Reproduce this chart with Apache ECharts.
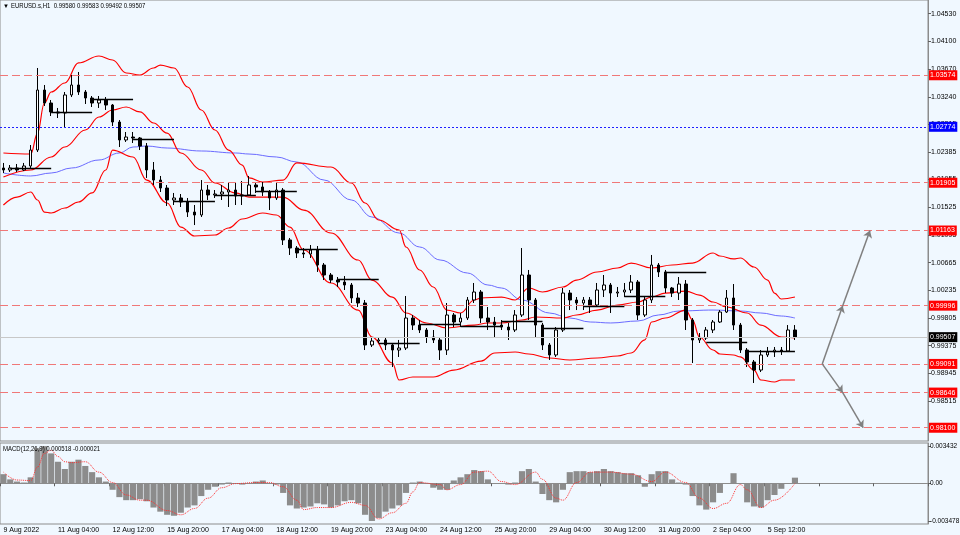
<!DOCTYPE html>
<html><head><meta charset="utf-8">
<script src="https://cdn.jsdelivr.net/npm/echarts@6/dist/echarts.min.js"></script>
<style>html,body{margin:0;padding:0;background:#f0f8ff;}#c{width:960px;height:535px;}</style>
</head><body><div id="c"></div>
<script>
const FF = '"Liberation Sans Narrow","Liberation Sans",Arial,sans-serif';
const headerText = 'EURUSD.s,H1  0.99580 0.99583 0.99492 0.99507';
const macdText = 'MACD(12,26,9) 0.000518 -0.000021';
const timeLabels = ['9 Aug 2022','11 Aug 04:00','12 Aug 12:00','15 Aug 20:00','17 Aug 04:00','18 Aug 12:00','19 Aug 20:00','23 Aug 04:00','24 Aug 12:00','25 Aug 20:00','29 Aug 04:00','30 Aug 12:00','31 Aug 20:00','2 Sep 04:00','5 Sep 12:00'];
const SLOTS = 136;
const priceTicks = [1.04530,1.04100,1.03670,1.03240,1.02815,1.02385,1.01955,1.01525,1.01095,1.00665,1.00235,0.99805,0.99375,0.98945,0.98515];
const macdTicks = [0.003432,0,-0.003478];

const openP = [1.02134,1.02103,1.02134,1.02103,1.02165,1.02413,1.03345,1.03143,1.03004,1.02988,
1.03268,1.03423,1.03314,1.03221,1.03143,1.03190,1.03112,1.02848,1.02569,1.02615,
1.02600,1.02475,1.02103,1.01947,1.01823,1.01637,1.01668,1.01606,1.01450,1.01404,
1.01792,1.01715,1.01730,1.01761,1.01792,1.01699,1.01715,1.01870,1.01839,1.01761,
1.01668,1.01792,1.01016,1.00891,1.00814,1.00798,1.00860,1.00627,1.00472,1.00394,
1.00363,1.00317,1.00115,1.00037,0.99385,0.99447,0.99463,0.99385,0.99307,0.99338,
0.99804,0.99695,0.99618,0.99509,0.99463,0.99307,0.99851,0.99742,0.99804,1.00084,
1.00208,0.99804,0.99742,0.99695,0.99664,0.99618,0.99851,1.00472,1.00084,0.99695,
0.99385,0.99230,0.99618,1.00192,1.00084,1.00037,1.00084,1.00006,1.00239,1.00317,
1.00192,1.00208,1.00239,1.00363,0.99851,1.00084,1.00627,1.00519,1.00270,1.00192,
1.00332,0.99773,0.99463,0.99494,0.99618,0.99742,0.99897,1.00115,0.99695,0.99307,
0.99121,0.98996,0.99230,0.99276,0.99307,0.99292,0.99618];
const highP = [1.02212,1.02180,1.02196,1.02212,1.02491,1.03687,1.03423,1.03190,1.03066,1.03314,
1.03578,1.03625,1.03345,1.03252,1.03252,1.03236,1.03128,1.02879,1.02693,1.02693,
1.02615,1.02522,1.02227,1.02010,1.01870,1.01746,1.01730,1.01668,1.01559,1.01947,
1.01870,1.01792,1.01870,1.01901,1.01901,1.01932,1.02010,1.01901,1.01916,1.01792,
1.01901,1.01823,1.01047,1.00922,1.00891,1.00938,1.00922,1.00658,1.00503,1.00441,
1.00456,1.00348,1.00192,1.00084,0.99509,0.99509,0.99509,0.99416,0.99463,1.00146,
0.99851,0.99773,0.99649,0.99618,0.99509,1.00037,0.99882,0.99882,1.00130,1.00348,
1.00239,0.99975,0.99820,0.99773,0.99727,0.99928,1.00891,1.00550,1.00115,0.99727,
0.99416,0.99664,1.00270,1.00239,1.00130,1.00130,1.00130,1.00348,1.00472,1.00348,
1.00286,1.00348,1.00472,1.00394,1.00130,1.00783,1.00658,1.00550,1.00286,1.00441,
1.00394,0.99804,0.99571,0.99664,0.99773,0.99928,1.00239,1.00332,0.99727,0.99338,
0.99152,0.99307,0.99354,0.99354,0.99354,0.99695,0.99695];
const lowP = [1.02056,1.02072,1.02072,1.02087,1.02134,1.02382,1.03097,1.02941,1.02910,1.02771,
1.03236,1.03268,1.03128,1.03081,1.03066,1.03035,1.02786,1.02460,1.02538,1.02522,
1.02413,1.01979,1.01870,1.01761,1.01544,1.01559,1.01528,1.01373,1.01248,1.01373,
1.01637,1.01668,1.01637,1.01528,1.01559,1.01559,1.01699,1.01746,1.01699,1.01481,
1.01637,1.00938,1.00783,1.00736,1.00736,1.00736,1.00519,1.00394,1.00348,1.00286,
1.00239,1.00037,0.99975,0.99307,0.99354,0.99416,0.99307,0.99043,0.99199,0.99307,
0.99618,0.99571,0.99416,0.99416,0.99152,0.99230,0.99664,0.99664,0.99773,1.00037,
0.99727,0.99618,0.99509,0.99618,0.99463,0.99587,0.99820,0.99773,0.99509,0.99307,
0.99152,0.99199,0.99587,0.99928,0.99928,0.99928,0.99882,0.99975,1.00130,0.99882,
1.00130,1.00130,1.00192,0.99773,0.99820,1.00037,1.00441,1.00192,1.00130,1.00084,
0.99618,0.99105,0.99416,0.99463,0.99571,0.99727,0.99882,0.99618,0.99261,0.99043,
0.98795,0.98965,0.99199,0.99199,0.99230,0.99276,0.99463];
const closeP = [1.02103,1.02134,1.02103,1.02165,1.02413,1.03345,1.03143,1.03004,1.02988,1.03268,
1.03423,1.03314,1.03221,1.03143,1.03190,1.03112,1.02848,1.02569,1.02615,1.02600,
1.02475,1.02103,1.01947,1.01823,1.01637,1.01668,1.01606,1.01450,1.01404,1.01792,
1.01715,1.01730,1.01761,1.01792,1.01699,1.01715,1.01870,1.01839,1.01761,1.01668,
1.01792,1.01016,1.00891,1.00814,1.00798,1.00860,1.00627,1.00472,1.00394,1.00363,
1.00317,1.00115,1.00037,0.99385,0.99447,0.99463,0.99385,0.99307,0.99338,0.99804,
0.99695,0.99618,0.99509,0.99463,0.99307,0.99851,0.99742,0.99804,1.00084,1.00208,
0.99804,0.99742,0.99695,0.99664,0.99618,0.99851,1.00472,1.00084,0.99695,0.99385,
0.99230,0.99618,1.00192,1.00084,1.00037,1.00084,1.00006,1.00239,1.00317,1.00192,
1.00208,1.00239,1.00363,0.99851,1.00084,1.00627,1.00519,1.00270,1.00192,1.00332,
0.99773,0.99463,0.99494,0.99618,0.99742,0.99897,1.00115,0.99695,0.99307,0.99121,
0.98996,0.99230,0.99276,0.99307,0.99292,0.99618,0.99507];

const upperBand = [[0,1.02367],[4,1.02351],[5,1.02677],[6,1.03143],[7,1.03314],[9,1.03454],[11,1.03765],[14,1.03873],[16,1.03811],[18,1.03609],[20,1.03578],[22,1.03687],[23,1.03733],[25,1.03687],[27,1.03392],[29,1.03035],[31,1.02724],[33,1.02413],[35,1.02180],[36,1.01979],[38,1.01916],[41,1.01947],[43,1.02212],[48,1.02149],[51,1.01901],[53,1.01590],[55,1.01326],[58,1.01171],[59,1.00907],[61,1.00550],[63,1.00286],[65,0.99928],[67,0.99882],[69,1.00084],[70,1.00115],[73,1.00130],[75,1.00084],[77,1.00270],[79,1.00208],[82,1.00286],[84,1.00394],[87,1.00519],[90,1.00581],[92,1.00658],[95,1.00581],[98,1.00627],[101,1.00658],[104,1.00814],[105,1.00767],[107,1.00721],[108,1.00736],[110,1.00596],[112,1.00394],[113,1.00192],[114,1.00099],[116,1.00130]];
const middleBand = [[0,1.01994],[4,1.02103],[7,1.02305],[9,1.02460],[12,1.02724],[14,1.02926],[16,1.03035],[18,1.03081],[20,1.03004],[22,1.02833],[24,1.02677],[26,1.02367],[29,1.02103],[31,1.01901],[34,1.01746],[36,1.01683],[41,1.01683],[44,1.01481],[48,1.01124],[52,1.00705],[54,1.00394],[57,1.00130],[59,0.99882],[62,0.99727],[65,0.99649],[69,0.99695],[71,0.99727],[73,0.99727],[76,0.99773],[78,0.99820],[82,0.99804],[84,0.99851],[87,0.99928],[90,1.00006],[93,1.00053],[95,1.00130],[97,1.00192],[100,1.00223],[102,1.00161],[104,1.00053],[106,0.99975],[109,0.99882],[111,0.99695],[114,0.99509],[116,0.99494]];
const lowerBand = [[0,1.01559],[2,1.01683],[4,1.01761],[5,1.01637],[6,1.01450],[7,1.01435],[9,1.01513],[11,1.01606],[13,1.01746],[15,1.02103],[16,1.02413],[19,1.02305],[21,1.01947],[24,1.01590],[26,1.01217],[28,1.01078],[31,1.01093],[33,1.01202],[35,1.01342],[38,1.01435],[40,1.01404],[42,1.01217],[44,1.00860],[48,1.00348],[52,0.99928],[54,0.99509],[57,0.99105],[58,0.98841],[60,0.98888],[63,0.98888],[66,0.98996],[70,0.99136],[72,0.99261],[75,0.99276],[77,0.99245],[80,0.99183],[83,0.99152],[87,0.99183],[90,0.99214],[92,0.99261],[94,0.99463],[95,0.99742],[97,0.99804],[100,0.99928],[101,0.99773],[102,0.99509],[104,0.99307],[105,0.99245],[107,0.99230],[108,0.99199],[110,0.98996],[111,0.98841],[113,0.98810],[114,0.98841],[116,0.98841]];
const slowMA = [[0,1.02056],[4,1.02010],[7,1.02056],[10,1.02134],[14,1.02258],[17,1.02367],[19,1.02460],[21,1.02475],[24,1.02444],[29,1.02398],[34,1.02367],[36,1.02351],[40,1.02305],[43,1.02227],[47,1.01947],[51,1.01637],[54,1.01373],[58,1.01124],[61,1.00907],[64,1.00705],[68,1.00503],[71,1.00317],[73,1.00270],[76,1.00084],[80,0.99882],[83,0.99804],[86,0.99742],[89,0.99727],[93,0.99758],[96,0.99851],[99,0.99913],[104,0.99928],[108,0.99913],[111,0.99882],[114,0.99835],[116,0.99804]];

const macdHist = [0.00084,0.00036,0.00016,0.00007,0.00055,0.00324,0.00343,0.00276,0.00199,0.00132,
0.00199,0.00218,0.00160,0.00103,0.00055,0.00016,-0.00060,-0.00128,-0.00156,-0.00156,
-0.00147,-0.00166,-0.00224,-0.00262,-0.00291,-0.00300,-0.00272,-0.00224,-0.00204,-0.00118,
-0.00060,-0.00032,-0.00012,0.00007,-0.00003,-0.00012,-0.00003,0.00016,0.00026,-0.00003,
-0.00012,-0.00089,-0.00204,-0.00233,-0.00224,-0.00214,-0.00185,-0.00195,-0.00224,-0.00204,
-0.00166,-0.00156,-0.00185,-0.00291,-0.00348,-0.00320,-0.00262,-0.00233,-0.00204,-0.00089,
0.00007,0.00016,-0.00003,-0.00041,-0.00060,-0.00060,0.00026,0.00055,0.00084,0.00122,
0.00112,0.00036,-0.00003,-0.00003,-0.00012,0.00007,0.00112,0.00132,0.00016,-0.00099,
-0.00156,-0.00176,-0.00060,0.00103,0.00112,0.00112,0.00103,0.00112,0.00132,0.00112,
0.00103,0.00093,0.00093,0.00074,-0.00032,0.00084,0.00112,0.00112,0.00036,0.00007,
-0.00012,-0.00118,-0.00204,-0.00243,-0.00176,-0.00089,-0.00003,0.00093,-0.00003,-0.00176,
-0.00214,-0.00224,-0.00156,-0.00108,-0.00051,-0.00003,0.00052];
const macdSignal = [[0,0.00103],[2,0.00030],[4,0.00025],[5,0.00150],[6,0.00276],[7,0.00305],[8,0.00247],[9,0.00199],[10,0.00190],[12,0.00199],[14,0.00103],[16,0.00007],[18,-0.00108],[20,-0.00156],[21,-0.00156],[24,-0.00252],[26,-0.00291],[28,-0.00233],[30,-0.00137],[32,-0.00041],[34,-0.00003],[37,0.00007],[39,0.00007],[41,-0.00032],[43,-0.00156],[44,-0.00243],[46,-0.00224],[48,-0.00224],[51,-0.00176],[53,-0.00204],[55,-0.00329],[57,-0.00272],[59,-0.00185],[60,-0.00080],[61,0.00007],[64,-0.00012],[65,-0.00060],[67,-0.00012],[69,0.00103],[71,0.00112],[73,0.00016],[75,-0.00012],[78,0.00103],[79,0.00036],[81,-0.00137],[82,-0.00156],[84,0.00007],[86,0.00103],[89,0.00103],[92,0.00084],[95,0.00016],[97,0.00103],[100,0.00007],[102,-0.00137],[104,-0.00233],[106,-0.00185],[108,-0.00012],[109,-0.00060],[111,-0.00224],[113,-0.00156],[116,-0.00002]];

const redLevels = [1.03574,1.01905,1.01163,0.99996,0.99091,0.98646,0.98100];
const blueLevel = 1.02774;
const lastPrice = 0.99507;
const dayStart = [1,7,13,19,25,31,37,43,49,55,61,67,73,79,85,91,97,103,109];
const dayEnd = [7,13,19,25,31,37,43,49,55,61,67,73,79,85,91,97,103,109,116];
const dayOpen = [1.02134,1.03004,1.03205,1.02584,1.01621,1.01715,1.01777,1.00876,1.00410,0.99416,0.99711,0.99680,0.99758,0.99649,0.99991,1.00146,1.00519,0.99432,0.99292];
const arrowUp = [[120,0.99091],[123,0.99996],[127,1.01163]];
const arrowDown = [[120,0.99091],[123,0.98646],[126,0.98100]];

const slots = Array.from({length: SLOTS}, (_, i) => String(i));
const candles = openP.map((o, i) => [o, closeP[i], lowP[i], highP[i]]);

function boxLabel(v, bg) {
  return {show: true, position: 'end', distance: 1, formatter: v.toFixed(5), backgroundColor: bg,
    color: '#ffffff', fontSize: 7, fontFamily: FF, padding: [1, 2, 1, 1], lineHeight: 8};
}
const markData = [];
redLevels.forEach(v => markData.push({yAxis: v, lineStyle: {color: '#f07878', type: [8, 4], width: 1}, label: boxLabel(v, '#ff0000')}));
markData.push({yAxis: blueLevel, lineStyle: {color: '#1f1fff', type: [2, 2], width: 1}, label: boxLabel(blueLevel, '#0000ff')});
markData.push({yAxis: lastPrice, lineStyle: {color: '#c8c8c8', type: 'solid', width: 1}, label: boxLabel(lastPrice, '#000000')});
dayStart.forEach((s, i) => markData.push([
  {coord: [s, dayOpen[i]], lineStyle: {color: '#000000', type: 'solid', width: 1.3}, label: {show: false}},
  {coord: [dayEnd[i], dayOpen[i]]}
]));
[arrowUp, arrowDown].forEach(a => {
  for (let j = 0; j < a.length - 1; j++) {
    markData.push([
      {coord: a[j], symbol: 'none', lineStyle: {color: '#808080', type: 'solid', width: 1.5}, label: {show: false}},
      {coord: a[j + 1], symbol: 'arrow', symbolSize: 7}
    ]);
  }
});

const lineBase = {type: 'line', xAxisIndex: 0, yAxisIndex: 0, smooth: 0.4, smoothMonotone: 'x', showSymbol: false, symbol: 'none', silent: true, z: 2};

const chart = echarts.init(document.getElementById('c'), null, {renderer: 'canvas'});
chart.setOption({
  animation: false,
  backgroundColor: '#f0f8ff',
  textStyle: {fontFamily: FF},
  grid: [
    {left: 0, top: 0, width: 928, height: 441, show: true, borderColor: '#8c8c8c', borderWidth: 1, backgroundColor: 'transparent', outerBoundsMode: 'none', containLabel: false},
    {left: 0, top: 443, width: 928, height: 81, show: true, borderColor: '#8c8c8c', borderWidth: 1, backgroundColor: 'transparent', outerBoundsMode: 'none', containLabel: false}
  ],
  xAxis: [
    {type: 'category', gridIndex: 0, data: slots, boundaryGap: true, axisLine: {show: false}, axisTick: {show: false}, axisLabel: {show: false}, splitLine: {show: false}},
    {type: 'category', gridIndex: 1, data: slots, boundaryGap: true,
      axisLine: {show: true, lineStyle: {color: '#8c8c8c'}},
      axisTick: {show: true, interval: 7, length: 3, lineStyle: {color: '#606060'}},
      axisLabel: {interval: 7, formatter: (v, i) => (i % 8 === 0 && timeLabels[i / 8]) ? timeLabels[i / 8] : '',
        align: 'left', fontSize: 7, color: '#000', margin: 3, fontFamily: FF},
      splitLine: {show: false}}
  ],
  yAxis: [
    {type: 'value', gridIndex: 0, position: 'right', min: 0.97894, max: 1.04743,
      splitLine: {show: false}, axisLine: {show: true, lineStyle: {color: '#8c8c8c'}},
      axisTick: {show: true, length: 3, customValues: priceTicks, lineStyle: {color: '#606060'}},
      axisLabel: {customValues: priceTicks, formatter: v => v.toFixed(5), fontSize: 7, color: '#000', margin: 3, fontFamily: FF}},
    {type: 'value', gridIndex: 1, position: 'right', min: -0.00376, max: 0.00372,
      splitLine: {show: false}, axisLine: {show: true, lineStyle: {color: '#8c8c8c'}},
      axisTick: {show: true, length: 3, customValues: macdTicks, lineStyle: {color: '#606060'}},
      axisLabel: {customValues: macdTicks, formatter: v => v === 0 ? '0.00' : v.toFixed(6), fontSize: 6.5, color: '#000', margin: 2, fontFamily: FF}}
  ],
  graphic: [
    {type: 'text', left: 3, top: 3, z: 100, style: {text: '\u25BC', fontSize: 6, fill: '#000'}},
    {type: 'text', left: 11, top: 2, z: 100, scaleX: 0.75, style: {text: headerText, fontSize: 8, fontFamily: FF, fill: '#000'}},
    {type: 'text', left: 3, top: 445, z: 100, scaleX: 0.75, style: {text: macdText, fontSize: 8, fontFamily: FF, fill: '#000'}}
  ],
  series: [
    Object.assign({}, lineBase, {data: slowMA, lineStyle: {color: '#6b6bff', width: 1}}),
    Object.assign({}, lineBase, {data: upperBand, lineStyle: {color: '#ff0000', width: 1.2}}),
    Object.assign({}, lineBase, {data: middleBand, lineStyle: {color: '#ff0000', width: 1.2}}),
    Object.assign({}, lineBase, {data: lowerBand, lineStyle: {color: '#ff0000', width: 1.2}}),
    {type: 'candlestick', xAxisIndex: 0, yAxisIndex: 0, data: candles, barWidth: 3, clip: false, z: 3,
      itemStyle: {color: '#ffffff', color0: '#000000', borderColor: '#000000', borderColor0: '#000000', borderWidth: 1},
      markLine: {silent: true, symbol: 'none', animation: false, precision: 5, data: markData}},
    {type: 'bar', xAxisIndex: 1, yAxisIndex: 1, data: macdHist, barWidth: '90%', itemStyle: {color: '#8c8c8c'}, silent: true},
    {type: 'line', xAxisIndex: 1, yAxisIndex: 1, data: macdSignal, smooth: 0.4, smoothMonotone: 'x', showSymbol: false, symbol: 'none', silent: true,
      lineStyle: {color: '#ff3030', width: 1, type: 'dotted'}, z: 4}
  ]
});
</script>
</body></html>
